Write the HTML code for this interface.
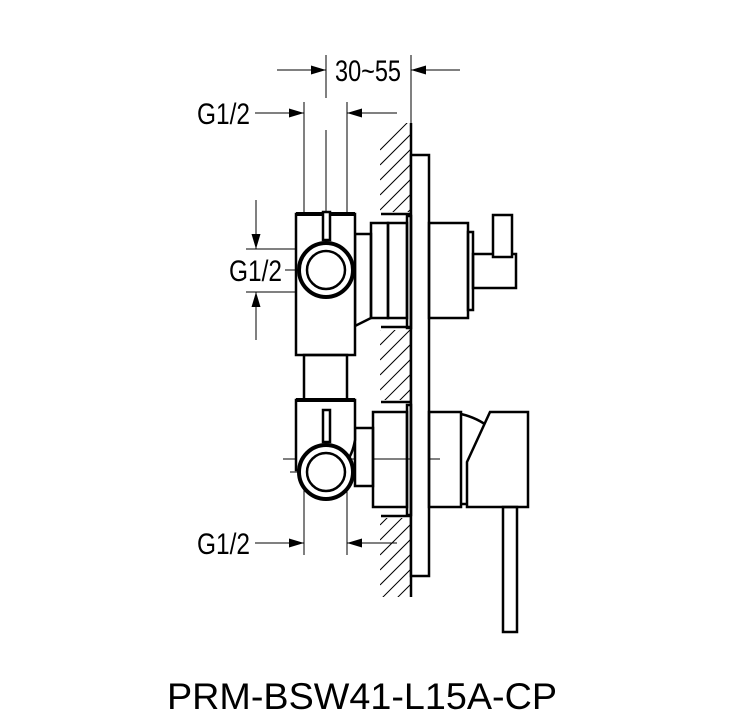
<!DOCTYPE html>
<html><head><style>html,body{margin:0;padding:0;background:#fff}svg{display:block}</style></head>
<body>
<svg width="743" height="727" viewBox="0 0 743 727" xmlns="http://www.w3.org/2000/svg">
<defs>
<clipPath id="hc"><path d="M380 123 H411 V597 H380 Z M380 212 V330 H411 V212 Z M380 400 V518 H411 V400 Z" clip-rule="evenodd"/></clipPath>
<marker id="a" viewBox="0 0 10 6" refX="10" refY="3" markerWidth="24" markerHeight="9" markerUnits="userSpaceOnUse" orient="auto"><path d="M0 0 L10 3 L0 6 Z" fill="#000"/></marker>
</defs>
<g font-family="Liberation Sans, sans-serif" fill="#000">
<text x="335" y="81" font-size="30" textLength="66" lengthAdjust="spacingAndGlyphs">30~55</text>
<text x="197" y="124" font-size="30" textLength="53" lengthAdjust="spacingAndGlyphs">G1/2</text>
<text x="229" y="281" font-size="30" textLength="53" lengthAdjust="spacingAndGlyphs">G1/2</text>
<text x="197" y="554" font-size="30" textLength="53" lengthAdjust="spacingAndGlyphs">G1/2</text>
<text x="167" y="709" font-size="37" textLength="390" lengthAdjust="spacingAndGlyphs">PRM-BSW41-L15A-CP</text>
</g>
<g stroke="#000" fill="none" stroke-width="1">
<line x1="277" y1="70" x2="326" y2="70" marker-end="url(#a)"/>
<line x1="460" y1="70" x2="411" y2="70" marker-end="url(#a)"/>
<line x1="326" y1="55" x2="326" y2="98"/>
<line x1="411" y1="55" x2="411" y2="123"/>
<line x1="255" y1="113" x2="304" y2="113" marker-end="url(#a)"/>
<line x1="397" y1="113" x2="347" y2="113" marker-end="url(#a)"/>
<line x1="304" y1="102" x2="304" y2="214"/>
<line x1="347" y1="102" x2="347" y2="214"/>
<line x1="326" y1="130" x2="326" y2="305"/>
<line x1="246" y1="249" x2="365" y2="249"/>
<line x1="246" y1="292" x2="365" y2="292"/>
<line x1="256" y1="200" x2="256" y2="249" marker-end="url(#a)"/>
<line x1="256" y1="340" x2="256" y2="292" marker-end="url(#a)"/>
<line x1="285" y1="270" x2="365" y2="270"/>
<line x1="283" y1="459" x2="440" y2="459"/>
<line x1="290" y1="472" x2="362" y2="472"/>
<line x1="326" y1="445" x2="326" y2="500"/>
<line x1="255" y1="543" x2="304" y2="543" marker-end="url(#a)"/>
<line x1="397" y1="543" x2="347" y2="543" marker-end="url(#a)"/>
<line x1="304" y1="490" x2="304" y2="555"/>
<line x1="347" y1="490" x2="347" y2="555"/>
<g clip-path="url(#hc)">
<path d="M380 150 l31 -31 M380 165 l31 -31 M380 180 l31 -31 M380 195 l31 -31 M380 210 l31 -31 M380 225 l31 -31 M380 240 l31 -31 M380 255 l31 -31 M380 270 l31 -31 M380 285 l31 -31 M380 300 l31 -31 M380 315 l31 -31 M380 330 l31 -31 M380 345 l31 -31 M380 360 l31 -31 M380 375 l31 -31 M380 390 l31 -31 M380 405 l31 -31 M380 420 l31 -31 M380 435 l31 -31 M380 450 l31 -31 M380 465 l31 -31 M380 480 l31 -31 M380 495 l31 -31 M380 510 l31 -31 M380 525 l31 -31 M380 540 l31 -31 M380 555 l31 -31 M380 570 l31 -31 M380 585 l31 -31 M380 600 l31 -31 M380 615 l31 -31"/>
</g>
</g>
<g stroke="#000" fill="none" stroke-width="2.5">
<line x1="411" y1="123" x2="411" y2="597"/>
<rect x="411" y="155" width="18" height="421" fill="#fff"/>
<line x1="381" y1="214" x2="411" y2="214"/>
<line x1="381" y1="327" x2="411" y2="327"/>
<line x1="381" y1="402" x2="411" y2="402"/>
<line x1="381" y1="516" x2="411" y2="516"/>
<path d="M355 234 H371 V318 L355 326 Z" fill="#fff"/>
<rect x="296" y="214" width="59" height="141" fill="#fff"/>
<line x1="296" y1="214" x2="355" y2="214" stroke-width="4"/>
<rect x="371" y="223" width="17" height="95"/>
<rect x="388" y="223" width="19" height="95"/>
<rect x="407" y="216" width="4" height="112"/>
<rect x="323" y="212" width="7" height="28" fill="#fff"/>
<circle cx="326" cy="270" r="27" stroke-width="4" fill="#fff"/>
<circle cx="326" cy="270" r="19"/>
<rect x="429" y="223" width="39" height="95"/>
<rect x="468" y="232" width="5" height="78"/>
<rect x="473" y="254" width="43" height="34"/>
<rect x="493" y="215" width="19" height="42" fill="#fff"/>
<rect x="304" y="355" width="43" height="45"/>
<path d="M355 428 H373 V486 H355 Z" fill="#fff"/>
<path d="M296 400 H355 V440 Q350 470 326 472 Q296 470 296 470 Z" fill="#fff"/>
<line x1="296" y1="400" x2="355" y2="400" stroke-width="4"/>
<rect x="373" y="412" width="34" height="95"/>
<rect x="407" y="405" width="4" height="110"/>
<rect x="323" y="410" width="7" height="32" fill="#fff"/>
<circle cx="326" cy="472" r="27" stroke-width="4" fill="#fff"/>
<circle cx="326" cy="472" r="19"/>
<rect x="429" y="412" width="32" height="95"/>
<path d="M461 414 Q478 418 490 428 L490 500 L467 504 L461 504"/>
<path d="M490 412 H528 V507 H467 V462 Z" fill="#fff"/>
<rect x="503" y="507" width="14" height="125"/>
</g>
</svg>
</body></html>
